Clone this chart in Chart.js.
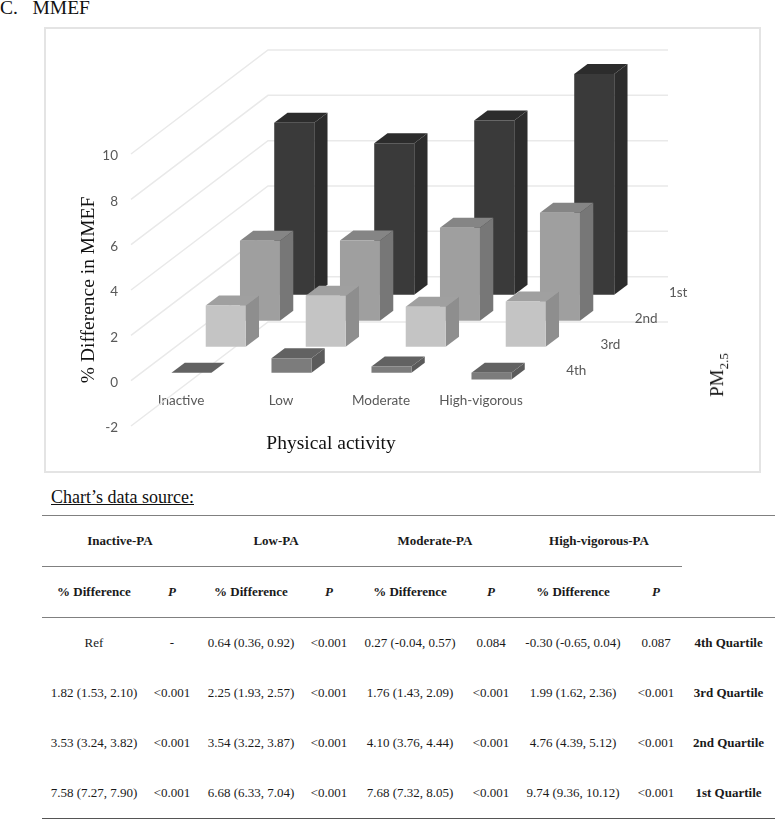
<!DOCTYPE html>
<html>
<head>
<meta charset="utf-8">
<style>
  body { margin: 0; background: #fff; width: 775px; height: 819px; position: relative; overflow: hidden; font-family: "Liberation Serif", serif; color: #111; }
  .panel { position: absolute; left: 0; top: -2px; font-size: 19.5px; white-space: pre; line-height: 20px; }
  .frame { position: absolute; left: 44px; top: 27px; width: 713px; height: 442px; border: 2px solid #e4e4e4; }
  #chart { position: absolute; left: 47px; top: 30px; }
  .pm { position: absolute; left: 719px; top: 375px; font-size: 19px; transform: translate(-50%, -50%) rotate(-90deg); white-space: nowrap; }
  .pm sub { font-size: 13px; }
  .source { position: absolute; left: 51px; top: 487px; font-size: 18px; text-decoration: underline; line-height: 21px; }
  table { position: absolute; left: 42px; top: 515px; width: 733px; border-collapse: collapse; table-layout: fixed; font-size: 13px; color: #1a1a1a; }
  td, th { padding: 0; text-align: center; }
  tr.top th { height: 50px; border-top: 1.5px solid #808080; }
  tr.sub th { height: 50px; border-top: 1.5px solid #808080; border-bottom: 1.5px solid #808080; }
  tr.sub th.none { border-top: 0; }
  tr.row td { height: 50px; }
  tr.last td { border-bottom: 1.5px solid #555; }
  .p { font-style: italic; }
</style>
</head>
<body>
<div class="panel">C.   MMEF</div>
<div class="frame"></div>
<canvas id="chart" width="711" height="440"></canvas>
<div class="pm">PM<sub>2.5</sub></div>
<div class="source">Chart’s data source:</div>
<table id="data-table"></table>

<script src="https://cdn.jsdelivr.net/npm/chart.js@4/dist/chart.umd.min.js"></script>
<script>
const activity = ['Inactive', 'Low', 'Moderate', 'High-vigorous'];
const quartiles = ['4th', '3rd', '2nd', '1st'];

const q4Values = [0, 0.64, 0.27, -0.30];
const q3Values = [1.82, 2.25, 1.76, 1.99];
const q2Values = [3.53, 3.54, 4.10, 4.76];
const q1Values = [7.58, 6.68, 7.68, 9.74];

const yTicksMin = -2;
const yTicksMax = 10;

// table under the chart
const tableGroups = ['Inactive-PA', 'Low-PA', 'Moderate-PA', 'High-vigorous-PA'];
const colWidths = [104, 52, 106, 50, 112, 50, 114, 52, 93];
const q4Row = ['Ref', '-', '0.64 (0.36, 0.92)', '<0.001', '0.27 (-0.04, 0.57)', '0.084', '-0.30 (-0.65, 0.04)', '0.087', '4th Quartile'];
const q3Row = ['1.82 (1.53, 2.10)', '<0.001', '2.25 (1.93, 2.57)', '<0.001', '1.76 (1.43, 2.09)', '<0.001', '1.99 (1.62, 2.36)', '<0.001', '3rd Quartile'];
const q2Row = ['3.53 (3.24, 3.82)', '<0.001', '3.54 (3.22, 3.87)', '<0.001', '4.10 (3.76, 4.44)', '<0.001', '4.76 (4.39, 5.12)', '<0.001', '2nd Quartile'];
const q1Row = ['7.58 (7.27, 7.90)', '<0.001', '6.68 (6.33, 7.04)', '<0.001', '7.68 (7.32, 8.05)', '<0.001', '9.74 (9.36, 10.12)', '<0.001', '1st Quartile'];

function buildTable() {
  const table = document.getElementById('data-table');
  let html = '<colgroup>' + colWidths.map((w) => `<col style="width:${w}px">`).join('') + '</colgroup>';
  html += '<tr class="top">' + tableGroups.map((g) => `<th colspan="2">${g}</th>`).join('') + '<th></th></tr>';
  html += '<tr class="sub">' + tableGroups.map(() => '<th>% Difference</th><th class="p">P</th>').join('') + '<th class="none"></th></tr>';
  const rows = [q4Row, q3Row, q2Row, q1Row];
  rows.forEach((r, i) => {
    html += `<tr class="row${i === rows.length - 1 ? ' last' : ''}">`;
    r.forEach((c, j) => {
      const text = c.replace('<', '&lt;');
      html += j === 8 ? `<td><b>${text}</b></td>` : `<td>${text}</td>`;
    });
    html += '</tr>';
  });
  table.innerHTML = html;
}
buildTable();

// oblique 3D: one slot per quartile going back, bar is thinner than its slot
const slot = { x: 34.25, y: -26 };
const depth = { x: 13.3, y: -10 };
const gap = { x: (slot.x - depth.x) / 2, y: (slot.y - depth.y) / 2 };

const faces = [
  { front: '#7c7c7c', side: '#5b5b5b', top: '#626262' },
  { front: '#c4c4c4', side: '#8e8e8e', top: '#a0a0a0' },
  { front: '#9f9f9f', side: '#777777', top: '#858585' },
  { front: '#3a3a3a', side: '#2c2c2c', top: '#2c2c2c' },
];

const poly = (ctx, pts, color) => {
  ctx.fillStyle = color;
  ctx.beginPath();
  pts.forEach((p, i) => (i ? ctx.lineTo(p[0], p[1]) : ctx.moveTo(p[0], p[1])));
  ctx.closePath();
  ctx.fill();
};

const bars3d = {
  id: 'bars3d',
  // push each quartile back along the depth direction
  afterDatasetsUpdate(chart) {
    chart.data.datasets.forEach((ds, i) => {
      const dx = gap.x + slot.x * i;
      const dy = gap.y + slot.y * i;
      chart.getDatasetMeta(i).data.forEach((el) => {
        el.x += dx;
        el.y += dy;
        el.base += dy;
      });
    });
  },
  // wall: each value line runs from the front edge to the back, then along the back
  beforeDatasetsDraw(chart) {
    const { ctx, scales } = chart;
    const back = { x: slot.x * quartiles.length, y: slot.y * quartiles.length };
    ctx.save();
    ctx.strokeStyle = '#e9e9e9';
    ctx.lineWidth = 1.5;
    scales.y.ticks.forEach((t) => {
      const y = scales.y.getPixelForValue(t.value);
      ctx.beginPath();
      ctx.moveTo(scales.x.left, y);
      ctx.lineTo(scales.x.left + back.x, y + back.y);
      ctx.lineTo(scales.x.right + back.x, y + back.y);
      ctx.stroke();
    });
    // quartile names along the right side of the floor
    ctx.fillStyle = '#595959';
    ctx.font = '13.5px Lato';
    ctx.textAlign = 'left';
    ctx.textBaseline = 'middle';
    const zero = scales.y.getPixelForValue(0);
    quartiles.forEach((q, i) => {
      ctx.fillText(q, scales.x.right + slot.x * (i + 0.5) + 18, zero + slot.y * (i + 0.5) + 3);
    });
    ctx.restore();
  },
  // top and side faces go under the front of the bar of the same dataset
  beforeDatasetDraw(chart, args) {
    const { ctx } = chart;
    const f = faces[args.index];
    args.meta.data.forEach((el) => {
      const l = el.x - el.width / 2;
      const r = el.x + el.width / 2;
      const t = Math.min(el.y, el.base);
      const b = Math.max(el.y, el.base);
      if (b > t) poly(ctx, [[r, t], [r + depth.x, t + depth.y], [r + depth.x, b + depth.y], [r, b]], f.side);
      poly(ctx, [[l, t], [l + depth.x, t + depth.y], [r + depth.x, t + depth.y], [r, t]], f.top);
    });
  },
};

const allValues = [q4Values, q3Values, q2Values, q1Values];

new Chart(document.getElementById('chart'), {
  type: 'bar',
  data: {
    labels: activity,
    datasets: quartiles.map((q, i) => ({
      label: q,
      data: allValues[i],
      backgroundColor: faces[i].front,
      borderWidth: 0,
      clip: false,
    })),
  },
  options: {
    responsive: false,
    animation: false,
    layout: { padding: { left: 0, top: 124, right: 227, bottom: 44 } },
    plugins: { legend: { display: false }, tooltip: { enabled: false } },
    datasets: { bar: { grouped: false, categoryPercentage: 1, barPercentage: 0.4 } },
    scales: {
      x: {
        position: { y: 0 },
        offset: true,
        grid: { display: false, drawTicks: false },
        border: { display: false },
        ticks: { color: '#595959', font: { family: 'Lato', size: 13.5 }, padding: 12, maxRotation: 0, autoSkip: false },
        title: {
          display: true,
          text: 'Physical activity',
          color: '#111',
          font: { family: 'Liberation Serif', size: 19.5, lineHeight: 1.2 },
          padding: { top: 11, bottom: 0 },
        },
      },
      y: {
        min: yTicksMin,
        max: yTicksMax,
        afterFit(scale) { scale.width = 84; },
        grid: { display: false, drawTicks: false },
        border: { display: false },
        ticks: {
          stepSize: 2,
          color: '#595959',
          autoSkip: false,
          // empty first line with a 4px line height sits the number 2px lower, on its grid line
          font: { family: 'Lato', size: 13.5, lineHeight: '4px' },
          callback: (v) => ['', String(v)],
          padding: 13,
        },
        title: {
          display: true,
          text: '% Difference in MMEF',
          color: '#111',
          font: { family: 'Liberation Serif', size: 19.5, lineHeight: 1.2 },
          padding: { top: 30, bottom: 0 },
        },
      },
    },
  },
  plugins: [bars3d],
});
</script>
</body>
</html>
